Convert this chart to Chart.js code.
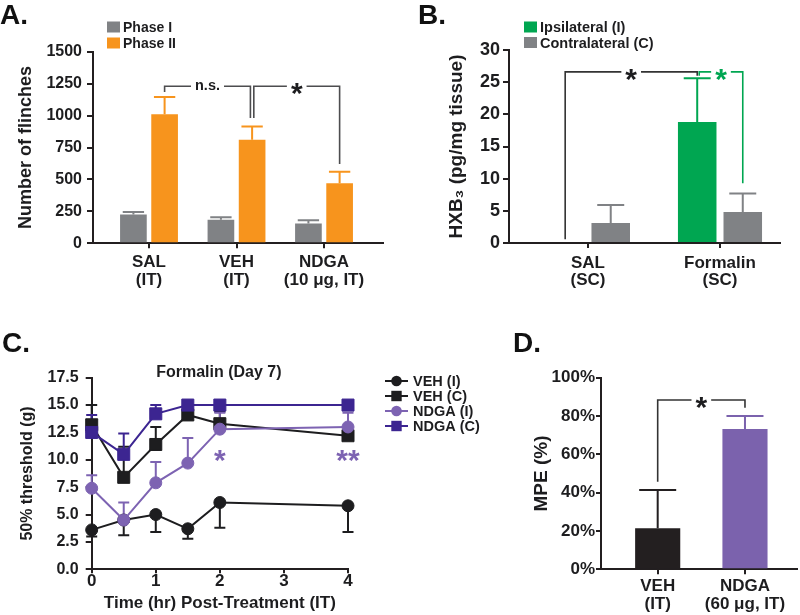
<!DOCTYPE html>
<html>
<head>
<meta charset="utf-8">
<title>NDGA figure</title>
<script src="https://cdn.jsdelivr.net/npm/chart.js@4.4.1/dist/chart.umd.min.js"></script>
<style>
  body { margin: 0; background: #fff; }
  #fig { position: relative; width: 800px; height: 615px; overflow: hidden; }
  #fig canvas { position: absolute; }
  .tag { position: absolute; font: bold 28px 'Liberation Sans', Arial, sans-serif; line-height: 1; color: #111; }
</style>
</head>
<body>
<div id="fig">
  <canvas id="chartA" width="400" height="300" style="left:0;top:0"></canvas>
  <canvas id="chartB" width="400" height="300" style="left:400px;top:0"></canvas>
  <canvas id="chartC" width="490" height="315" style="left:0;top:300px"></canvas>
  <canvas id="chartD" width="310" height="315" style="left:490px;top:300px"></canvas>
  <div class="tag" style="left:0;top:1px">A.</div>
  <div class="tag" style="left:418px;top:1px">B.</div>
  <div class="tag" style="left:2px;top:329px">C.</div>
  <div class="tag" style="left:513px;top:329px">D.</div>
</div>
<script>
// ---- A. flinches ----
const groupsA = [['SAL', '(IT)'], ['VEH', '(IT)'], ['NDGA', '(10 μg, IT)']];
const phase1 = [225, 185, 155];
const phase1Sem = [20, 18, 25];
const phase2 = [1010, 810, 470];
const phase2Sem = [135, 105, 90];
const ticksA = [0, 250, 500, 750, 1000, 1250, 1500];

// ---- B. HXB3 ----
const groupsB = [['SAL', '(SC)'], ['Formalin', '(SC)']];
const ipsi = [0, 18.8];
const ipsiSem = [0, 6.8];
const contra = [3.1, 4.8];
const contraSem = [2.8, 2.9];
const ticksB = [0, 5, 10, 15, 20, 25, 30];

// ---- C. threshold over time ----
const timeC = [0, 0.5, 1, 1.5, 2, 4];
const vehI = [3.6, 4.5, 5.0, 3.7, 6.1, 5.8];
const vehISem = [0.6, 1.4, 1.6, 0.9, 2.3, 2.4];
const vehC = [13.2, 8.4, 11.4, 14.1, 13.3, 12.2];
const vehCSem = [1.8, 2.8, 1.6, 0, 1.1, 0];
const ndgaI = [7.4, 4.5, 7.9, 9.7, 12.8, 13.0];
const ndgaISem = [1.2, 1.6, 1.9, 2.3, 1.5, 1.3];
const ndgaC = [12.5, 10.5, 14.2, 15.0, 15.0, 15.0];
const ndgaCSem = [1.6, 1.9, 0.8, 0, 0, 0];
const ticksCx = [0, 1, 2, 3, 4];
const ticksCy = [0, 2.5, 5, 7.5, 10, 12.5, 15, 17.5];
const starsC = [{ x: 2, y: 10.6, text: '*' }, { x: 4, y: 10.6, text: '**' }];

// ---- D. MPE ----
const groupsD = [['VEH', '(IT)'], ['NDGA', '(60 μg, IT)']];
const mpe = [21.4, 73.2];
const mpeSem = [20.0, 6.8];
const ticksD = [0, 20, 40, 60, 80, 100];

const FONT = "'Liberation Sans', Arial, Helvetica, sans-serif";
const INK = '#1d1d1f';
const AXIS = '#231f20';
const GRAY = '#808285';
const ORANGE = '#f7941d';
const GREEN = '#00a651';
const PURPLE = '#7d63b2';
const INDIGO = '#3c2591';
const BRACKET = '#4d4d4f';

Chart.defaults.font.family = FONT;
Chart.defaults.font.weight = 'bold';
Chart.defaults.color = INK;
Chart.defaults.animation = false;
Chart.defaults.responsive = false;
Chart.defaults.plugins.legend.display = false;
Chart.defaults.plugins.tooltip.enabled = false;

const pts = (xs, ys) => ys.map((v, i) => ({ x: xs[i], y: v }));
const idx = arr => arr.map((_, i) => i + 1);

function yAxis(o) {
  return {
    min: o.ticks[0], max: o.ticks[o.ticks.length - 1],
    afterBuildTicks: s => { s.ticks = o.ticks.map(v => ({ value: v })); },
    afterFit: s => { s.width = o.width; },
    ticks: { font: { size: o.size }, padding: o.pad, callback: o.fmt || (v => String(v)) },
    title: { display: true, text: o.title, font: { size: o.titleSize }, padding: { top: o.titlePad, bottom: 0 } },
    grid: { drawOnChartArea: false, color: AXIS, lineWidth: 2, tickLength: o.tick },
    border: { color: AXIS, width: 2 }
  };
}

function catAxis(o) {
  return {
    type: 'linear', offset: false, min: o.min, max: o.max,
    afterBuildTicks: s => { s.ticks = o.labels.map((_, i) => ({ value: i + 1 })); },
    afterFit: s => { s.height = o.height; },
    ticks: { autoSkip: false, maxRotation: 0, minRotation: 0, padding: o.pad,
             font: { size: 17, lineHeight: 1.05 }, callback: v => o.labels[v - 1] },
    grid: { offset: false, drawOnChartArea: false, color: AXIS, lineWidth: 2, tickLength: 5 },
    border: { color: AXIS, width: 2 }
  };
}

// error bars, one-sided like the original
function errorBars(capRatio, under, capPx) {
  const draw = chart => {
    const ctx = chart.ctx, ys = chart.scales.y;
    chart.data.datasets.forEach((ds, di) => {
      if (!ds.sem) return;
      chart.getDatasetMeta(di).data.forEach((el, i) => {
        const sem = ds.sem[i];
        if (!sem) return;
        const v = ds.data[i].y;
        const end = ys.getPixelForValue(v + (ds.errDir || 1) * sem);
        const c = ds.errColor || ds.backgroundColor;
        const cap = capPx || el.width * capRatio;
        ctx.save();
        ctx.strokeStyle = Array.isArray(c) ? c[i] : c;
        ctx.lineWidth = 2;
        ctx.beginPath();
        ctx.moveTo(el.x, el.y);
        ctx.lineTo(el.x, end);
        ctx.moveTo(el.x - cap / 2, end);
        ctx.lineTo(el.x + cap / 2, end);
        ctx.stroke();
        ctx.restore();
      });
    });
  };
  return under
    ? { id: 'errorBars', beforeDatasetsDraw: draw }
    : { id: 'errorBars', afterDatasetsDraw: draw };
}

// significance brackets, levels in data units
function brackets(items) {
  return {
    id: 'brackets',
    afterDatasetsDraw(chart) {
      const ctx = chart.ctx, ys = chart.scales.y;
      const px = ref => chart.getDatasetMeta(ref[0]).data[ref[1]].x + (ref[2] || 0);
      items.forEach(b => {
        const x1 = px(b.from), x2 = px(b.to);
        const yl = ys.getPixelForValue(b.level);
        const y1 = ys.getPixelForValue(b.fromEnd), y2 = ys.getPixelForValue(b.toEnd);
        const xm = (x1 + x2) / 2;
        ctx.save();
        ctx.font = `bold ${b.size}px ${FONT}`;
        const tw = ctx.measureText(b.text).width;
        ctx.strokeStyle = b.color;
        ctx.lineWidth = 1.6;
        ctx.beginPath();
        ctx.moveTo(x1, y1);
        ctx.lineTo(x1, yl);
        ctx.lineTo(xm - tw / 2 - 4, yl);
        ctx.moveTo(xm + tw / 2 + 4, yl);
        ctx.lineTo(x2, yl);
        ctx.lineTo(x2, y2);
        ctx.stroke();
        ctx.fillStyle = b.textColor || b.color;
        ctx.textAlign = 'center';
        ctx.textBaseline = 'alphabetic';
        ctx.fillText(b.text, xm, yl + b.size * b.shift);
        ctx.restore();
      });
    }
  };
}

function boxLegend(x, y, gap, size) {
  return {
    id: 'boxLegend',
    afterDraw(chart) {
      const ctx = chart.ctx;
      ctx.save();
      ctx.font = `bold ${size}px ${FONT}`;
      ctx.textBaseline = 'middle';
      chart.data.datasets.forEach((ds, i) => {
        const cy = y + i * gap;
        ctx.fillStyle = ds.backgroundColor;
        ctx.fillRect(x, cy - 5.5, 13, 11);
        ctx.fillStyle = INK;
        ctx.fillText(ds.label, x + 16, cy + 1);
      });
      ctx.restore();
    }
  };
}

// ---- A ----
new Chart(document.getElementById('chartA'), {
  type: 'bar',
  data: { datasets: [
    { label: 'Phase I', data: pts(idx(groupsA), phase1), sem: phase1Sem, backgroundColor: GRAY },
    { label: 'Phase II', data: pts(idx(groupsA), phase2), sem: phase2Sem, backgroundColor: ORANGE }
  ]},
  options: {
    layout: { padding: { top: 51.7, right: 17, bottom: 0, left: 0 } },
    datasets: { bar: { categoryPercentage: 0.713, barPercentage: 0.855 } },
    scales: {
      x: catAxis({ labels: groupsA, min: 0.36, max: 3.674, height: 56.7, pad: 5.5 }),
      y: yAxis({ ticks: ticksA, width: 93, size: 16, pad: 5, tick: 6,
                 title: 'Number of flinches', titleSize: 18, titlePad: 15.2 })
    }
  },
  plugins: [
    errorBars(0.8),
    boxLegend(107, 27, 16, 14),
    brackets([
      { from: [1, 0], to: [1, 1, -1.7], level: 1230, fromEnd: 1184, toEnd: 981,
        text: 'n.s.', size: 14.5, shift: 0.26, color: BRACKET, textColor: INK },
      { from: [1, 1, 1.7], to: [1, 2], level: 1230, fromEnd: 981, toEnd: 621,
        text: '*', size: 30, shift: 0.57, color: BRACKET, textColor: INK }
    ])
  ]
});

// ---- B ----
new Chart(document.getElementById('chartB'), {
  type: 'bar',
  data: { datasets: [
    { label: 'Ipsilateral (I)', data: pts(idx(groupsB), ipsi), sem: ipsiSem, backgroundColor: GREEN },
    { label: 'Contralateral (C)', data: pts(idx(groupsB), contra), sem: contraSem, backgroundColor: GRAY }
  ]},
  options: {
    layout: { padding: { top: 50, right: 20, bottom: 0, left: 0 } },
    datasets: { bar: { categoryPercentage: 0.69, barPercentage: 0.846 } },
    scales: {
      x: catAxis({ labels: groupsB, min: 0.402, max: 2.4545, height: 57, pad: 6 }),
      y: yAxis({ ticks: ticksB, width: 109, size: 18, pad: 3, tick: 6,
                 title: 'HXB₃ (pg/mg tissue)', titleSize: 19, titlePad: 45.6 })
    }
  },
  plugins: [
    errorBars(0.7),
    boxLegend(124, 27, 15.5, 14.5),
    brackets([
      { from: [0, 0], to: [0, 1], level: 26.6, fromEnd: 0.6, toEnd: 26.0,
        text: '*', size: 30, shift: 0.57, color: '#333333', textColor: INK },
      { from: [0, 1, 2], to: [1, 1], level: 26.6, fromEnd: 26.0, toEnd: 9.3,
        text: '*', size: 30, shift: 0.57, color: GREEN }
    ])
  ]
});

// ---- C ----
function series(label, ys, sem, dir, color, style, radius, order) {
  return {
    label, data: pts(timeC, ys), sem, errDir: dir, errColor: color,
    borderColor: color, backgroundColor: color, borderWidth: 2,
    pointStyle: style, pointRadius: radius, pointBorderWidth: 1,
    tension: 0, order, clip: false
  };
}

const cExtras = {
  id: 'cExtras',
  afterDraw(chart) {
    const ctx = chart.ctx, xs = chart.scales.x, ys = chart.scales.y;
    ctx.save();
    // panel title
    ctx.fillStyle = INK;
    ctx.font = `bold 16px ${FONT}`;
    ctx.textAlign = 'center';
    ctx.textBaseline = 'middle';
    ctx.fillText('Formalin (Day 7)', (xs.left + xs.right) / 2 - 1, 73);
    // stars
    ctx.fillStyle = PURPLE;
    ctx.font = `bold 30px ${FONT}`;
    ctx.textBaseline = 'alphabetic';
    starsC.forEach(s => ctx.fillText(s.text, xs.getPixelForValue(s.x), ys.getPixelForValue(s.y) + 30 * 0.57));
    // legend
    ctx.textAlign = 'left';
    ctx.textBaseline = 'middle';
    ctx.font = `bold 14.5px ${FONT}`;
    chart.data.datasets.forEach((ds, i) => {
      const cy = 81 + i * 15;
      ctx.strokeStyle = ds.borderColor;
      ctx.fillStyle = ds.borderColor;
      ctx.lineWidth = 2;
      ctx.beginPath();
      ctx.moveTo(385, cy);
      ctx.lineTo(408, cy);
      ctx.stroke();
      if (ds.pointStyle === 'circle') {
        ctx.beginPath();
        ctx.arc(396.5, cy, 5.3, 0, Math.PI * 2);
        ctx.fill();
      } else {
        ctx.fillRect(396.5 - 5.2, cy - 5.2, 10.4, 10.4);
      }
      ctx.fillStyle = INK;
      ctx.fillText(ds.label, 413, cy + 1);
    });
    ctx.restore();
  }
};

new Chart(document.getElementById('chartC'), {
  type: 'line',
  data: { datasets: [
    series('VEH (I)', vehI, vehISem, -1, INK, 'circle', 6, 3),
    series('VEH (C)', vehC, vehCSem, 1, INK, 'rect', 8.5, 2),
    series('NDGA (I)', ndgaI, ndgaISem, 1, PURPLE, 'circle', 6, 1),
    series('NDGA (C)', ndgaC, ndgaCSem, 1, INDIGO, 'rect', 8.5, 0)
  ]},
  options: {
    layout: { padding: { top: 77.7, right: 142, bottom: 0, left: 0 } },
    scales: {
      x: {
        type: 'linear', min: 0, max: 4,
        afterBuildTicks: s => { s.ticks = ticksCx.map(v => ({ value: v })); },
        afterFit: s => { s.height = 45.7; },
        ticks: { font: { size: 17, lineHeight: 1.05 }, padding: -1, maxRotation: 0, callback: v => String(v) },
        title: { display: true, text: 'Time (hr) Post-Treatment (IT)', font: { size: 17 }, padding: { top: 0, bottom: 1.8 } },
        grid: { drawOnChartArea: false, color: AXIS, lineWidth: 2, tickLength: 4 },
        border: { color: AXIS, width: 2 }
      },
      y: yAxis({ ticks: ticksCy, width: 91.7, size: 16, pad: 7, tick: 6, fmt: v => v.toFixed(1),
                 title: '50% threshold (g)', titleSize: 16, titlePad: 18.4 })
    }
  },
  plugins: [errorBars(0, true, 11), cExtras]
});

// ---- D ----
new Chart(document.getElementById('chartD'), {
  type: 'bar',
  data: { datasets: [
    { label: 'MPE', data: pts(idx(groupsD), mpe), sem: mpeSem, backgroundColor: [AXIS, '#7b62ad'] }
  ]},
  options: {
    layout: { padding: { top: 77.7, right: 3, bottom: 0, left: 0 } },
    datasets: { bar: { categoryPercentage: 1, barPercentage: 0.517 } },
    scales: {
      x: catAxis({ labels: groupsD, min: 0.3505, max: 2.596, height: 45.7, pad: 3.5 }),
      y: yAxis({ ticks: ticksD, width: 111, size: 17, pad: 1, tick: 5, fmt: v => v + '%',
                 title: 'MPE (%)', titleSize: 19, titlePad: 40.3 })
    }
  },
  plugins: [
    errorBars(0.82),
    brackets([
      { from: [0, 0], to: [0, 1], level: 88.4, fromEnd: 45.7, toEnd: 84.3,
        text: '*', size: 30, shift: 0.57, color: '#333333', textColor: INK }
    ])
  ]
});
</script>
</body>
</html>
